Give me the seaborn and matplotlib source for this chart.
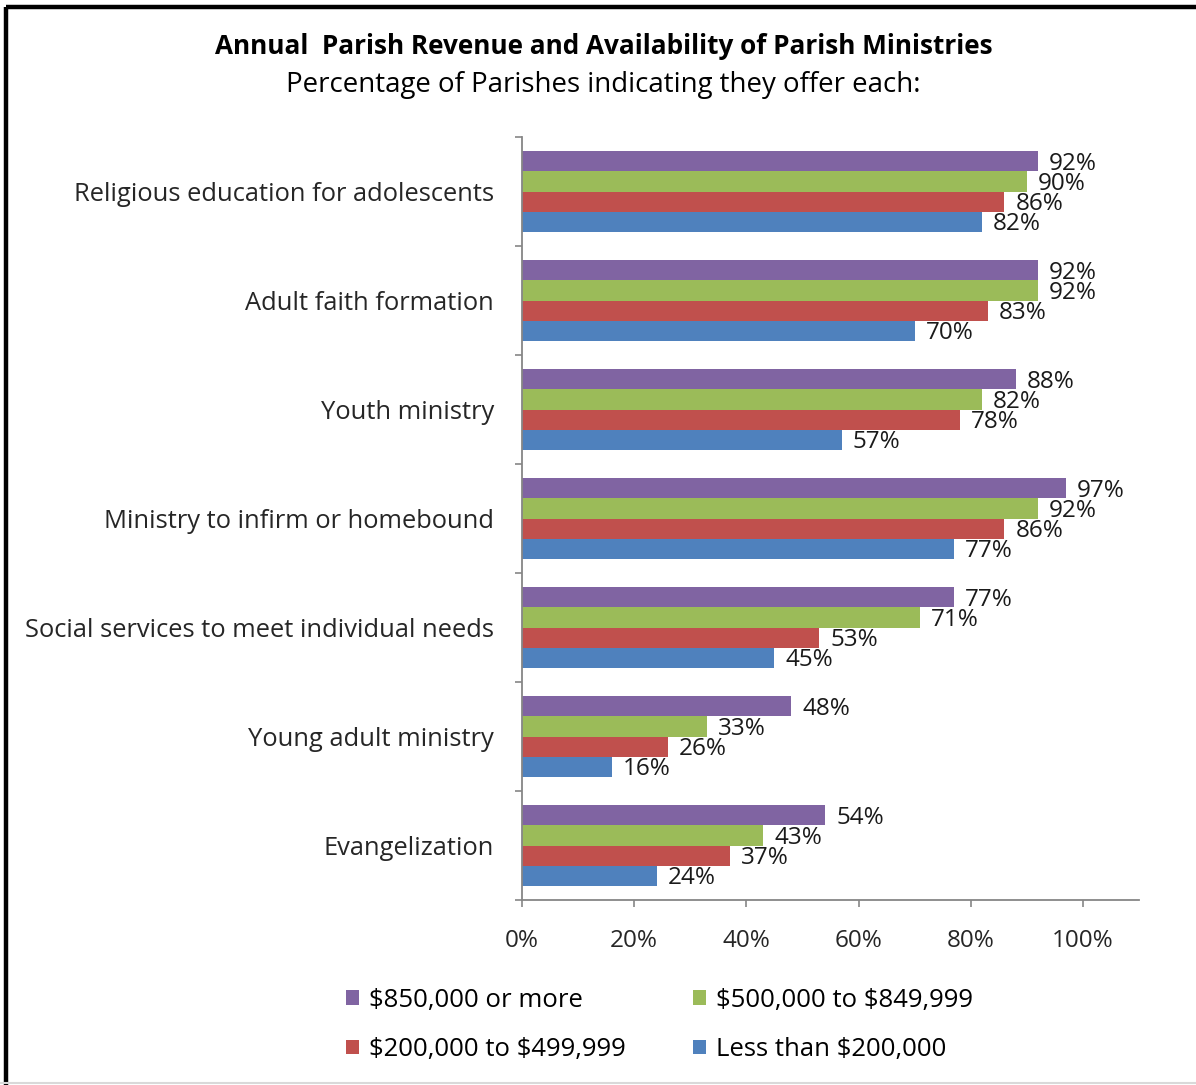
import matplotlib
matplotlib.use("Agg")
import matplotlib.pyplot as plt
from matplotlib.lines import Line2D
from matplotlib.patches import Patch
import seaborn as sns
import pandas as pd

# Ministries offered, by annual parish revenue
ministries = [
    "Religious education for adolescents",
    "Adult faith formation",
    "Youth ministry",
    "Ministry to infirm or homebound",
    "Social services to meet individual needs",
    "Young adult ministry",
    "Evangelization",
]
revenue_groups = [
    "$850,000 or more",
    "$500,000 to $849,999",
    "$200,000 to $499,999",
    "Less than $200,000",
]
rev_850k_plus = [92, 92, 88, 97, 77, 48, 54]
rev_500k_849k = [90, 92, 82, 92, 71, 33, 43]
rev_200k_499k = [86, 83, 78, 86, 53, 26, 37]
rev_under_200k = [82, 70, 57, 77, 45, 16, 24]
x_ticks = [0, 20, 40, 60, 80, 100]

colors = ["#8064A2", "#9BBB59", "#C0504D", "#4F81BD"]

rows = []
for grp, vals in zip(revenue_groups,
                     [rev_850k_plus, rev_500k_849k, rev_200k_499k, rev_under_200k]):
    for m, v in zip(ministries, vals):
        rows.append({"Ministry": m, "Revenue": grp, "Percent": v})
df = pd.DataFrame(rows)

sns.set_theme(style="white")
plt.rcParams["font.family"] = ["Open Sans", "DejaVu Sans"]
plt.rcParams["text.color"] = "#000000"
plt.rcParams["text.parse_math"] = False

W, H, DPI = 1196, 1085, 100
fig = plt.figure(figsize=(W / DPI, H / DPI), dpi=DPI, facecolor="white")
ax = fig.add_axes([522 / W, 1 - 900 / H, (1139 - 522) / W, (900 - 137) / H])

sns.barplot(
    data=df, y="Ministry", x="Percent", hue="Revenue",
    order=ministries, hue_order=revenue_groups, palette=colors,
    orient="h", width=0.735, saturation=1, errorbar=None,
    legend=False, ax=ax, linewidth=0,
)

# value labels to the right of each bar, nudged slightly down
for container in ax.containers:
    labels = ax.bar_label(container,
                          labels=[f"{int(round(w))}%" for w in container.datavalues],
                          padding=8, fontsize=17.5, color="#1a1a1a")
    for t in labels:
        t.xyann = (8, -2)

ax.set_xlim(0, 110)
ax.set_ylim(len(ministries) - 0.5, -0.5)
ax.set_xticks(x_ticks)
ax.set_xticklabels([f"{t}%" for t in x_ticks], fontsize=17.5)
ax.set_xlabel("")
ax.set_ylabel("")

# category separators as outward ticks on the y axis
ax.set_yticks(range(len(ministries)))
ax.set_yticklabels(ministries, fontsize=18.4)
ax.set_yticks([i - 0.5 for i in range(len(ministries) + 1)], minor=True)
ax.tick_params(axis="y", which="major", length=0, pad=20)
ax.tick_params(axis="y", which="minor", length=5, width=1.2, color="#868686", direction="out", left=True)
ax.tick_params(axis="x", which="major", length=5, width=1.2, color="#868686", direction="out", bottom=True, pad=16)

for side in ("top", "right"):
    ax.spines[side].set_visible(False)
for side in ("left", "bottom"):
    ax.spines[side].set_color("#868686")
    ax.spines[side].set_linewidth(1.3)

fig.text(0.505, 1 - 47 / H, "Annual  Parish Revenue and Availability of Parish Ministries",
         ha="center", va="center", fontsize=18.8, fontweight="bold")
fig.text(0.504, 1 - 85 / H, "Percentage of Parishes indicating they offer each:",
         ha="center", va="center", fontsize=19.9)

# legend: two rows, two columns
handles = [Patch(facecolor=c, edgecolor="none") for c in colors]
order = [0, 2, 1, 3]
fig.legend([handles[i] for i in order], [revenue_groups[i] for i in order],
           ncol=2, loc="center left", bbox_to_anchor=(323 / W, 1 - 1025 / H),
           frameon=False, fontsize=18.5, handlelength=0.5, handleheight=0.5,
           handletextpad=0.4, columnspacing=2.6, labelspacing=0.95)

# outer frame
fig.add_artist(Line2D([6 / W, 1], [1 - 7 / H, 1 - 7 / H], color="black", lw=3.2,
                      transform=fig.transFigure, solid_capstyle="butt"))
fig.add_artist(Line2D([6 / W, 6 / W], [0, 1 - 7 / H], color="black", lw=3.2,
                      transform=fig.transFigure, solid_capstyle="butt"))
fig.add_artist(Line2D([0, 1], [1 - 1083 / H, 1 - 1083 / H], color="#d9d9d9", lw=1.5,
                      transform=fig.transFigure))

fig.savefig("out.png", dpi=DPI, facecolor="white")
